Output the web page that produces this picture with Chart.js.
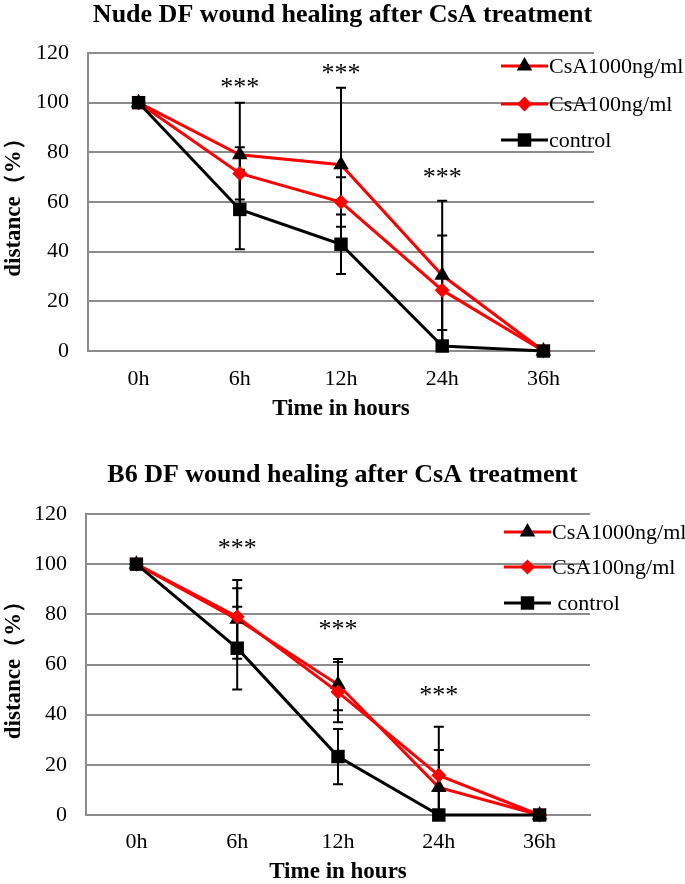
<!DOCTYPE html>
<html>
<head>
<meta charset="utf-8">
<script src="https://cdn.jsdelivr.net/npm/chart.js@4"></script>
<style>
    body { margin: 0; background: #fff; }
    .box { position: absolute; left: 0; width: 685px; }
    #wrapNude { top: 0; height: 440px; }
    #wrapB6 { top: 440px; height: 444px; }
</style>
</head>
<body>
<div class="box" id="wrapNude"><canvas id="nudeChart"></canvas></div>
<div class="box" id="wrapB6"><canvas id="b6Chart"></canvas></div>
<script>
const hours = ["0h", "6h", "12h", "24h", "36h"];
const seriesNames = ["CsA1000ng/ml", "CsA100ng/ml", "control"];
const seriesNamesB6 = ["CsA1000ng/ml", "CsA100ng/ml", " control"];

// Nude DF
const nudeCsA1000 = [100, 79, 75, 30.5, 0];
const nudeCsA100 = [100, 71.5, 60, 24.5, 0];
const nudeControl = [100, 57, 43, 2, 0];
const nudeErr1000 = [0, 21, 31, 30, 0];
const nudeErr100 = [0, 10.5, 10, 22, 0];
const nudeErrControl = [0, 16, 12, 6.5, 0];
const nudeStars = [null, 108, 113.6, 71.7, null];

// B6 DF
const b6CsA1000 = [100, 78, 52, 11, 0];
const b6CsA100 = [100, 79, 49, 15.8, 0];
const b6Control = [100, 66.5, 23.3, 0, 0];
const b6Err1000 = [0, 15.7, 10.2, 14.9, 0];
const b6Err100 = [0, 11.4, 12, 19.4, 0];
const b6ErrControl = [0, 16.5, 11, 0, 0];
const b6Stars = [null, 108, 75.8, 49.4, null];

const serif = "'Liberation Serif', 'Times New Roman', serif";
const gridGray = "#8c8c8c";

const styles = [
    { line: "#ff0000", fill: "#000000", shape: "triangle", r: 9 },
    { line: "#ff0000", fill: "#ff0000", shape: "rectRot", r: 7.5 },
    { line: "#000000", fill: "#000000", shape: "rect", r: 9.5 }
];

const errorBars = {
    id: "errorBars",
    beforeDatasetsDraw(chart) {
        const ctx = chart.ctx;
        const yScale = chart.scales.y;
        const area = chart.chartArea;
        ctx.save();
        ctx.beginPath();
        ctx.rect(area.left, area.top, area.right - area.left, area.bottom - area.top);
        ctx.clip();
        ctx.strokeStyle = "#000";
        ctx.lineWidth = 2;
        chart.data.datasets.forEach((ds, i) => {
            const meta = chart.getDatasetMeta(i);
            meta.data.forEach((pt, j) => {
                const e = ds.errors[j];
                if (!e) return;
                const yTop = yScale.getPixelForValue(ds.data[j] + e);
                const yBot = yScale.getPixelForValue(ds.data[j] - e);
                ctx.beginPath();
                ctx.moveTo(pt.x, yTop);
                ctx.lineTo(pt.x, yBot);
                ctx.moveTo(pt.x - 5, yTop);
                ctx.lineTo(pt.x + 5, yTop);
                ctx.moveTo(pt.x - 5, yBot);
                ctx.lineTo(pt.x + 5, yBot);
                ctx.stroke();
            });
        });
        ctx.restore();
    }
};

const stars = {
    id: "stars",
    afterDatasetsDraw(chart, args, opts) {
        const ctx = chart.ctx;
        ctx.save();
        ctx.font = "26px " + serif;
        ctx.fillStyle = "#000";
        ctx.textAlign = "center";
        ctx.textBaseline = "alphabetic";
        opts.values.forEach((v, j) => {
            if (v === null) return;
            const x = chart.scales.x.getPixelForValue(j);
            const y = chart.scales.y.getPixelForValue(v);
            ctx.fillText("***", x, y + 12);
        });
        ctx.restore();
    }
};

const sideLegend = {
    id: "sideLegend",
    afterDraw(chart, args, opts) {
        const ctx = chart.ctx;
        ctx.save();
        chart.data.datasets.forEach((ds, i) => {
            const y = opts.ys[i];
            const st = styles[i];
            ctx.strokeStyle = st.line;
            ctx.lineWidth = 3;
            ctx.beginPath();
            ctx.moveTo(opts.x, y);
            ctx.lineTo(opts.x + 47, y);
            ctx.stroke();
            ctx.fillStyle = st.fill;
            Chart.helpers.drawPoint(ctx, {
                pointStyle: st.shape,
                radius: st.r,
                rotation: 0,
                borderWidth: 0
            }, opts.x + 23.5, y);
            ctx.fillStyle = "#000";
            ctx.font = "22px " + serif;
            ctx.textAlign = "left";
            ctx.textBaseline = "middle";
            ctx.fillText(ds.label, opts.x + 48, y + 1);
        });
        ctx.restore();
    }
};

function makeChart(id, titleText, names, values, errors, starValues, g) {
    const datasets = values.map((vals, i) => ({
        label: names[i],
        data: vals,
        errors: errors[i],
        borderColor: styles[i].line,
        borderWidth: 3,
        pointStyle: styles[i].shape,
        pointRadius: styles[i].r,
        pointBackgroundColor: styles[i].fill,
        pointBorderColor: styles[i].fill,
        pointBorderWidth: 0,
        tension: 0,
        clip: false,
        order: 2 - i
    }));

    return new Chart(document.getElementById(id), {
        type: "line",
        data: { labels: hours, datasets: datasets },
        plugins: [errorBars, stars, sideLegend],
        options: {
            responsive: true,
            maintainAspectRatio: false,
            animation: false,
            layout: { padding: 0 },
            plugins: {
                legend: { display: false },
                tooltip: { enabled: false },
                title: {
                    display: true,
                    text: titleText,
                    color: "#000",
                    font: { family: serif, size: 26, weight: "bold" },
                    padding: { top: g.titleTop, bottom: g.titleBottom }
                },
                stars: { values: starValues },
                sideLegend: { x: g.legendX, ys: g.legendY }
            },
            scales: {
                x: {
                    offset: true,
                    grid: { display: false, drawTicks: false },
                    border: { display: true, color: gridGray, width: 2 },
                    ticks: {
                        color: "#000",
                        padding: g.tickPadX,
                        font: { family: serif, size: 22 }
                    },
                    title: {
                        display: true,
                        text: "Time in hours",
                        color: "#000",
                        font: { family: serif, size: 23, weight: "bold" },
                        padding: { top: 0, bottom: g.xTitlePad }
                    },
                    afterFit(scale) { scale.height = g.xHeight; }
                },
                y: {
                    min: 0,
                    max: 120,
                    grid: { color: gridGray, lineWidth: 2, drawTicks: false },
                    border: { display: true, color: gridGray, width: 2 },
                    ticks: {
                        stepSize: 20,
                        color: "#000",
                        padding: 19,
                        font: { family: serif, size: 22 }
                    },
                    title: {
                        display: true,
                        text: "distance（%）",
                        color: "#000",
                        font: { family: serif, size: 23, weight: "bold" },
                        padding: 0
                    },
                    afterFit(scale) { scale.width = g.yWidth; }
                },
                // empty right-hand box: keeps the plot narrow while the title stays centred on the page
                yPad: {
                    type: "linear",
                    axis: "y",
                    position: "right",
                    grid: { display: false, drawTicks: false },
                    border: { display: false },
                    ticks: { display: false },
                    afterFit(scale) { scale.width = g.right; }
                }
            }
        }
    });
}

makeChart(
    "nudeChart",
    "Nude DF wound healing after CsA treatment",
    seriesNames,
    [nudeCsA1000, nudeCsA100, nudeControl],
    [nudeErr1000, nudeErr100, nudeErrControl],
    nudeStars,
    {
        right: 91, yWidth: 88, xHeight: 89, tickPadX: 15, xTitlePad: 17,
        titleTop: 0, titleBottom: 21.8, legendX: 501, legendY: [66, 104, 140]
    }
);

makeChart(
    "b6Chart",
    "B6 DF wound healing after CsA treatment",
    seriesNamesB6,
    [b6CsA1000, b6CsA100, b6Control],
    [b6Err1000, b6Err100, b6ErrControl],
    b6Stars,
    {
        right: 95, yWidth: 86, xHeight: 69, tickPadX: 14, xTitlePad: -2,
        titleTop: 19.4, titleBottom: 23.4, legendX: 504, legendY: [92, 127, 163]
    }
);
</script>
</body>
</html>
